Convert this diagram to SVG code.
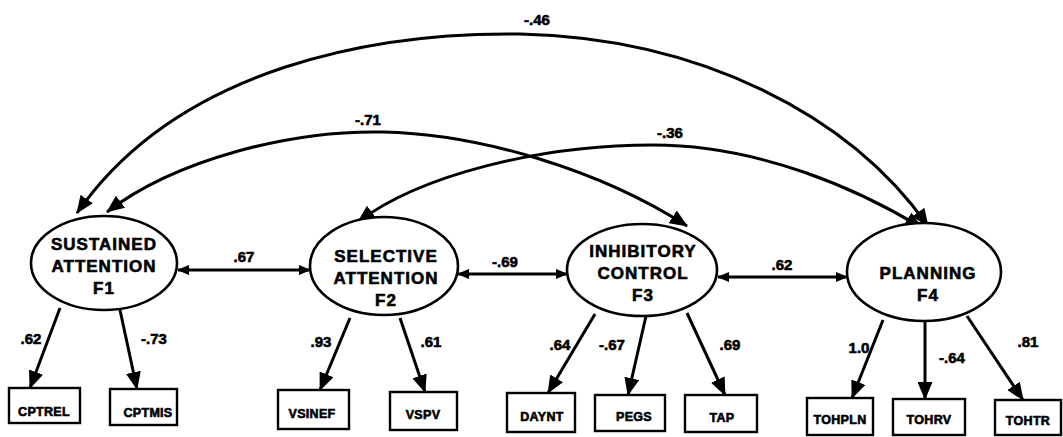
<svg xmlns="http://www.w3.org/2000/svg" width="1063" height="437" viewBox="0 0 1063 437">
<style>
.f{fill:#fff;stroke:#000;stroke-width:2.6}
.b{fill:#fff;stroke:#000;stroke-width:2.4}
.ft{font-family:"Liberation Sans",Arial,sans-serif;font-weight:bold;font-size:17px;letter-spacing:1px;text-anchor:middle;fill:#000;stroke:#000;stroke-width:0.6}
.bt{font-family:"Liberation Sans",Arial,sans-serif;font-weight:bold;font-size:12.5px;letter-spacing:0.3px;text-anchor:middle;fill:#000;stroke:#000;stroke-width:0.6}
.lb{font-family:"Liberation Sans",Arial,sans-serif;font-weight:bold;font-size:15px;text-anchor:middle;fill:#000;stroke:#000;stroke-width:0.6}
.c{fill:none;stroke:#000;stroke-width:3}
</style>
<defs>
<marker id="big" markerUnits="userSpaceOnUse" markerWidth="18" markerHeight="15" refX="17" refY="7.5" orient="auto-start-reverse"><path d="M0,0 L18,7.5 L0,15 z" fill="#000"/></marker>
<marker id="sm" markerUnits="userSpaceOnUse" markerWidth="12" markerHeight="10" refX="11" refY="5" orient="auto-start-reverse"><path d="M0,0 L12,5 L0,10 z" fill="#000"/></marker>
</defs>
<g id="connectors">
<path class="c" d="M 77 213 C 180 65, 380 32, 520 34 C 700 38, 850 115, 928 226" marker-start="url(#big)" marker-end="url(#big)"/>
<path class="c" d="M 107 212 C 175 160, 290 130, 383 132 C 480 134, 600 170, 687 226" marker-start="url(#big)" marker-end="url(#big)"/>
<path class="c" d="M 358 222 C 420 175, 540 145, 653 145 C 760 145, 860 190, 922 228" marker-start="url(#big)" marker-end="url(#big)"/>
<line class="c" x1="178" y1="270" x2="310" y2="270" marker-start="url(#sm)" marker-end="url(#sm)"/>
<line class="c" x1="458" y1="274" x2="567" y2="274" marker-start="url(#sm)" marker-end="url(#sm)"/>
<line class="c" x1="718" y1="277" x2="847" y2="277" marker-start="url(#sm)" marker-end="url(#sm)"/>
<line class="c" x1="60" y1="308" x2="30" y2="388" marker-end="url(#big)"/>
<line class="c" x1="120" y1="310" x2="137" y2="389" marker-end="url(#big)"/>
<line class="c" x1="350" y1="318" x2="320" y2="390" marker-end="url(#big)"/>
<line class="c" x1="400" y1="318" x2="425" y2="392" marker-end="url(#big)"/>
<line class="c" x1="595" y1="314" x2="548" y2="393" marker-end="url(#big)"/>
<line class="c" x1="646" y1="316" x2="628" y2="395" marker-end="url(#big)"/>
<line class="c" x1="687" y1="313" x2="725" y2="395" marker-end="url(#big)"/>
<line class="c" x1="883" y1="320" x2="852" y2="398" marker-end="url(#big)"/>
<line class="c" x1="925" y1="321" x2="925" y2="399" marker-end="url(#big)"/>
<line class="c" x1="967" y1="316" x2="1023" y2="400" marker-end="url(#big)"/>
<text class="lb" x="537" y="25">-.46</text>
<text class="lb" x="368" y="125">-.71</text>
<text class="lb" x="670" y="138">-.36</text>
<text class="lb" x="244" y="262">.67</text>
<text class="lb" x="505" y="267">-.69</text>
<text class="lb" x="782" y="270">.62</text>
<text class="lb" x="31" y="344">.62</text>
<text class="lb" x="154" y="344">-.73</text>
<text class="lb" x="321" y="347">.93</text>
<text class="lb" x="431" y="347">.61</text>
<text class="lb" x="560" y="350">.64</text>
<text class="lb" x="612" y="350">-.67</text>
<text class="lb" x="730" y="350">.69</text>
<text class="lb" x="859" y="353">1.0</text>
<text class="lb" x="952" y="363">-.64</text>
<text class="lb" x="1028" y="347">.81</text>
</g>
<g id="F1"><ellipse class="f" cx="104" cy="263" rx="73" ry="47"/><text class="ft" x="104" y="250">SUSTAINED</text><text class="ft" x="104" y="272">ATTENTION</text><text class="ft" x="104" y="294">F1</text></g>
<g id="F2"><ellipse class="f" cx="384" cy="266" rx="74" ry="49"/><text class="ft" x="386" y="262">SELECTIVE</text><text class="ft" x="386" y="284">ATTENTION</text><text class="ft" x="386" y="306">F2</text></g>
<g id="F3"><ellipse class="f" cx="642" cy="270" rx="75" ry="46"/><text class="ft" x="643" y="257">INHIBITORY</text><text class="ft" x="643" y="279">CONTROL</text><text class="ft" x="643" y="301">F3</text></g>
<g id="F4"><ellipse class="f" cx="924" cy="272" rx="77" ry="49"/><text class="ft" x="928" y="279">PLANNING</text><text class="ft" x="928" y="301">F4</text></g>
<g id="CPTREL"><rect class="b" x="9" y="388" width="71" height="35"/><text class="bt" x="44" y="416">CPTREL</text></g>
<g id="CPTMIS"><rect class="b" x="110" y="389" width="67" height="36"/><text class="bt" x="148" y="417">CPTMIS</text></g>
<g id="VSINEF"><rect class="b" x="278" y="390" width="71" height="39"/><text class="bt" x="312" y="418">VSINEF</text></g>
<g id="VSPV"><rect class="b" x="390" y="392" width="67" height="38"/><text class="bt" x="423" y="419">VSPV</text></g>
<g id="DAYNT"><rect class="b" x="507" y="393" width="68" height="39"/><text class="bt" x="542" y="421">DAYNT</text></g>
<g id="PEGS"><rect class="b" x="595" y="395" width="70" height="36"/><text class="bt" x="634" y="421">PEGS</text></g>
<g id="TAP"><rect class="b" x="685" y="395" width="72" height="37"/><text class="bt" x="722" y="422">TAP</text></g>
<g id="TOHPLN"><rect class="b" x="807" y="398" width="66" height="37"/><text class="bt" x="840" y="424">TOHPLN</text></g>
<g id="TOHRV"><rect class="b" x="893" y="399" width="72" height="36"/><text class="bt" x="929" y="424">TOHRV</text></g>
<g id="TOHTR"><rect class="b" x="995" y="400" width="66" height="35"/><text class="bt" x="1028" y="425">TOHTR</text></g>
</svg>
